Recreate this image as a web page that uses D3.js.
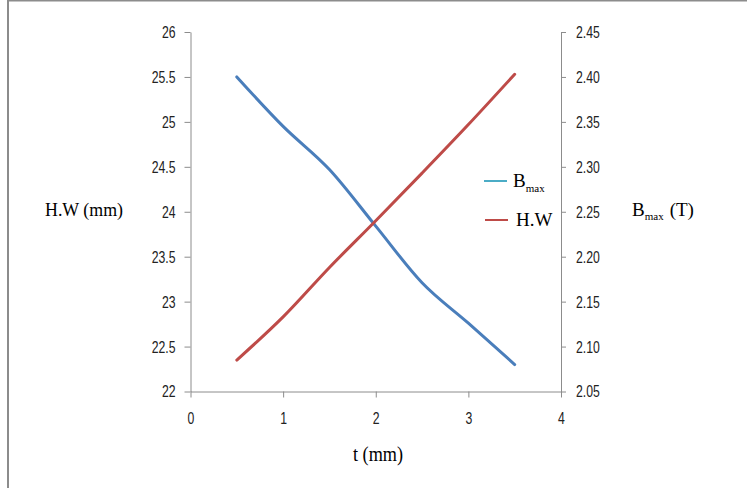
<!DOCTYPE html>
<html><head><meta charset="utf-8">
<script src="https://cdn.jsdelivr.net/npm/d3@7"></script>
<style>
body{margin:0;background:#fff;}
.tick text{font-family:"Liberation Sans","DejaVu Sans",sans-serif;font-size:17px;fill:#222;}
.ttl{font-family:"Liberation Serif","Times New Roman",serif;fill:#000;}
</style></head>
<body>
<svg id="c" width="747" height="488"></svg>
<script>
const tValues = [0.5, 1, 1.5, 2, 2.5, 3, 3.5];
const hwValues = [22.35, 22.83, 23.38, 23.90, 24.43, 24.97, 25.53];
const bmaxValues = [2.40, 2.345, 2.297, 2.234, 2.171, 2.126, 2.080];
const xTicks = [0, 1, 2, 3, 4];
const leftTicks = [22, 22.5, 23, 23.5, 24, 24.5, 25, 25.5, 26];
const rightTicks = [2.05, 2.10, 2.15, 2.20, 2.25, 2.30, 2.35, 2.40, 2.45];

const svg = d3.select("#c");
// frame lines
svg.append("line").attr("x1",8).attr("x2",747).attr("y1",0.5).attr("y2",0.5).attr("stroke","#8c8c8c").attr("stroke-width",2);
svg.append("line").attr("x1",8).attr("x2",8).attr("y1",0).attr("y2",488).attr("stroke","#8c8c8c").attr("stroke-width",2);

const x = d3.scaleLinear().domain([0,4]).range([190.5,561]);
const yL = d3.scaleLinear().domain([22,26]).range([391.5,32]);
const yR = d3.scaleLinear().domain([2.05,2.45]).range([391.5,32]);

function styleAxis(g){
  g.select(".domain").attr("stroke","#8c8c8c");
  g.selectAll(".tick line").attr("stroke","#8c8c8c");
}
function narrow(g){
  g.selectAll(".tick text").each(function(){
    const w = this.getComputedTextLength();
    d3.select(this).attr("textLength", w*0.72).attr("lengthAdjust","spacingAndGlyphs");
  });
}
svg.append("g").attr("transform","translate(0,391.5)")
  .call(d3.axisBottom(x).tickValues(xTicks).tickFormat(d3.format("d")).tickSize(6).tickSizeOuter(0).tickPadding(14))
  .call(styleAxis).call(narrow);
svg.append("g").attr("transform","translate(190.5,0)")
  .call(d3.axisLeft(yL).tickValues(leftTicks).tickFormat(d=>String(d)).tickSize(6).tickSizeOuter(0).tickPadding(9))
  .call(styleAxis).call(narrow);
svg.append("g").attr("transform","translate(561,0)")
  .call(d3.axisRight(yR).tickValues(rightTicks).tickFormat(d3.format(".2f")).tickSize(5).tickSizeOuter(0).tickPadding(10))
  .call(styleAxis).call(narrow);

const lineHW = d3.line().x((d,i)=>x(tValues[i])).y(d=>yL(d)).curve(d3.curveMonotoneX);
const lineB = d3.line().x((d,i)=>x(tValues[i])).y(d=>yR(d)).curve(d3.curveMonotoneX);
svg.append("path").datum(bmaxValues).attr("d",lineB).attr("fill","none").attr("stroke","#4A7EBB").attr("stroke-width",3).attr("stroke-linecap","round");
svg.append("path").datum(hwValues).attr("d",lineHW).attr("fill","none").attr("stroke","#BE4B48").attr("stroke-width",3).attr("stroke-linecap","round");

// axis titles
svg.append("text").attr("class","ttl").attr("x",84).attr("y",216).attr("text-anchor","middle").attr("font-size",19).attr("textLength",78).attr("lengthAdjust","spacingAndGlyphs").text("H.W (mm)");
svg.append("text").attr("class","ttl").attr("x",378).attr("y",461).attr("text-anchor","middle").attr("font-size",20).attr("textLength",50).attr("lengthAdjust","spacingAndGlyphs").text("t (mm)");
const rt = svg.append("text").attr("class","ttl").attr("x",632).attr("y",216).attr("font-size",19);
rt.append("tspan").text("B");
rt.append("tspan").attr("font-size",11).attr("dy",4).text("max");
rt.append("tspan").attr("dy",-4).attr("dx",6).text("(T)");

// legend
svg.append("line").attr("x1",484).attr("x2",507).attr("y1",181).attr("y2",181).attr("stroke","#4BACC6").attr("stroke-width",2);
const lt = svg.append("text").attr("class","ttl").attr("x",513).attr("y",187).attr("font-size",19);
lt.append("tspan").text("B");
lt.append("tspan").attr("font-size",11).attr("dy",5).text("max");
svg.append("line").attr("x1",485).attr("x2",508).attr("y1",220).attr("y2",220).attr("stroke","#BE4B48").attr("stroke-width",2);
svg.append("text").attr("class","ttl").attr("x",516).attr("y",226).attr("font-size",19).text("H.W");
</script>
</body></html>
